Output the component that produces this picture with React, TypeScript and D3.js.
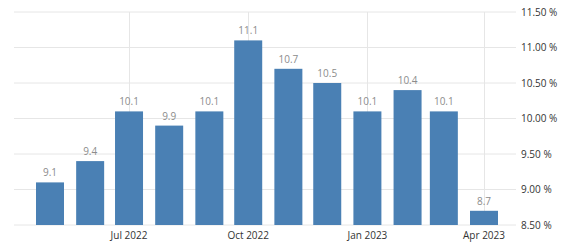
import React from "react";
import * as d3 from "d3";

const months = ["2022-05", "2022-06", "2022-07", "2022-08", "2022-09", "2022-10", "2022-11", "2022-12", "2023-01", "2023-02", "2023-03", "2023-04"];
const values = [9.1, 9.4, 10.1, 9.9, 10.1, 11.1, 10.7, 10.5, 10.1, 10.4, 10.1, 8.7];
const yTicks = [8.5, 9.0, 9.5, 10.0, 10.5, 11.0, 11.5];
const xTickMonths = ["2022-07", "2022-10", "2023-01", "2023-04"];
const xTickLabels = ["Jul 2022", "Oct 2022", "Jan 2023", "Apr 2023"];

const W = 565;
const H = 242;
const parse = d3.timeParse("%Y-%m");

export default function App() {
  const dates = months.map((m) => parse(m) as Date);
  const x = d3.scaleTime().domain([dates[0], dates[dates.length - 1]]).range([50, 484]);
  const y = d3.scaleLinear().domain([8.5, 11.5]).range([225, 12]);
  const barW = 28;
  const font = "'Open Sans', 'Noto Sans', sans-serif";
  return (
    <svg width={W} height={H} style={{ position: "absolute", left: 0, top: 0, background: "#fff" }}>
      {yTicks.map((t) => (
        <line key={"g" + t} x1={14} x2={516} y1={y(t)} y2={y(t)} stroke="#e6e6e6" strokeWidth={1} />
      ))}
      {xTickMonths.map((m) => {
        const xv = Math.round(x(parse(m) as Date)) + 0.5;
        return <line key={"v" + m} x1={xv} x2={xv} y1={12} y2={225} stroke="#e6e6e6" strokeWidth={1} />;
      })}
      {values.map((v, i) => {
        const cx = x(dates[i]);
        return (
          <g key={"b" + i}>
            <rect x={cx - barW / 2} y={y(v)} width={barW} height={y(8.5) - y(v)} fill="#4a80b4" />
            <text x={cx} y={y(v) - 6} textAnchor="middle" fontSize={10} fill="#8c8c8c" fontFamily={font}>
              {v.toFixed(1)}
            </text>
          </g>
        );
      })}
      {yTicks.map((t) => (
        <text key={"yl" + t} x={521} y={y(t) + 3.5} fontSize={10} fill="#333" fontFamily={font}>
          {t.toFixed(2) + " %"}
        </text>
      ))}
      {xTickMonths.map((m, i) => (
        <text key={"xl" + m} x={x(parse(m) as Date)} y={239} textAnchor="middle" fontSize={10} fill="#333" fontFamily={font}>
          {xTickLabels[i]}
        </text>
      ))}
    </svg>
  );
}
